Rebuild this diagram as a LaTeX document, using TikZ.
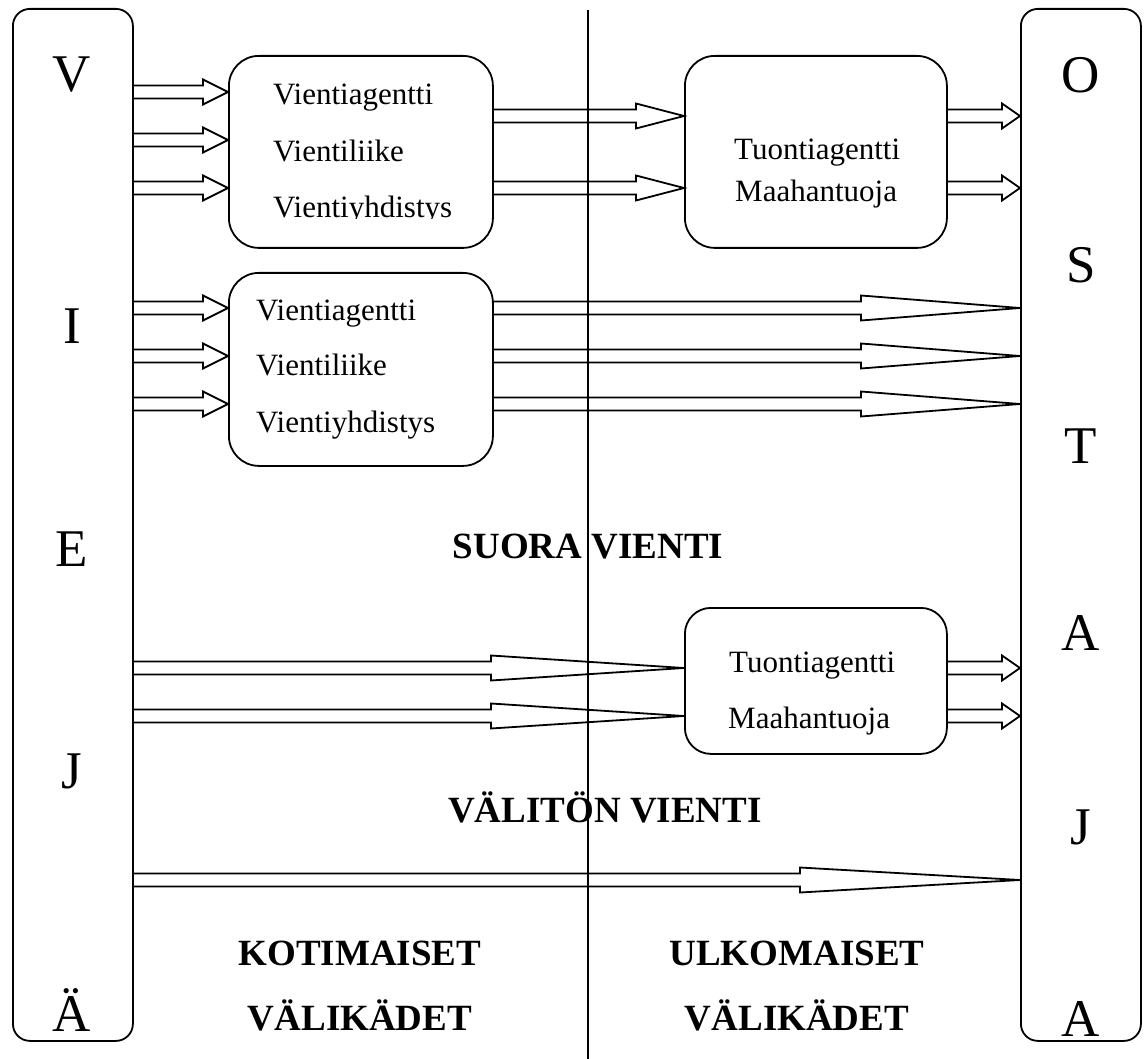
\documentclass[tikz,border=0pt]{standalone}
\usepackage{fontspec}
\setmainfont{Liberation Serif}
\usetikzlibrary{calc}
\newcommand{\blockarr}[3]{%
  \draw[arr] ($(#1)+(0,-6.5)$) -- ($(#2)+(-#3,-6.5)$) -- ($(#2)+(-#3,-12.5)$) -- (#2)
    -- ($(#2)+(-#3,12.5)$) -- ($(#2)+(-#3,6.5)$) -- ($(#1)+(0,6.5)$);}
\begin{document}
\begin{tikzpicture}[x=1pt,y=-1pt,
  side/.style={draw, line width=1.8pt, rounded corners=17pt, anchor=north west, inner sep=0pt, minimum width=120pt, minimum height=1032pt},
  inbox/.style={draw, line width=1.8pt, rounded corners=30pt, anchor=north west, inner sep=0pt},
  arr/.style={line width=1.8pt, line join=miter},
  big/.style={font=\fontsize{53}{60}\selectfont, anchor=base, inner sep=0pt},
  item/.style={font=\fontsize{31}{35}\selectfont, anchor=base west, inner sep=0pt},
  lab/.style={font=\fontsize{37}{42}\selectfont\bfseries, anchor=base, inner sep=0pt}]
\useasboundingbox (0,0) rectangle (1146,1059);
\fill[white] (0,0) rectangle (1146,1059);
% divider
\coordinate (vt) at (588,10);
\coordinate (vb) at (588,1059);
\draw[line width=1.8pt] (vt) -- (vb);
% side boxes
\node[side] (L) at (12,8) {};
\node[side] (R) at (1020,8) {};
% inner boxes
\node[inbox, minimum width=264pt, minimum height=192pt] (A) at (228,55) {};
\node[inbox, minimum width=262pt, minimum height=192pt] (B) at (684,55) {};
\node[inbox, minimum width=264pt, minimum height=193pt] (C) at (228,272) {};
\node[inbox, minimum width=262pt, minimum height=146pt, rounded corners=26pt] (D) at (684,607) {};
% letters
\node[big] (l1) at (72,92) {V};
\node[big] (l2) at (72,343) {I};
\node[big] (l3) at (72,566) {E};
\node[big] (l4) at (72,788) {J};
\node[big] (l5) at (72,1031) {Ä};
\node[big] (r1) at (1081,93) {O};
\node[big] (r2) at (1081,283) {S};
\node[big] (r3) at (1081,463) {T};
\node[big] (r4) at (1081,650) {A};
\node[big] (r5) at (1081,844) {J};
\node[big] (r6) at (1081,1036) {A};
% box texts
\node[item] (a1) at (273,105) {Vientiagentti};
\node[item] (a2) at (273,162) {Vientiliike};
\begin{scope}
  \clip (228,150) rectangle (492,219);
  \node[item] (a3) at (273,218) {Vientiyhdistys};
\end{scope}
\node[item] (b1) at (734,160) {Tuontiagentti};
\node[item] (b2) at (735,202) {Maahantuoja};
\node[item] (c1) at (256,320) {Vientiagentti};
\node[item] (c2) at (256,375) {Vientiliike};
\node[item] (c3) at (256,432) {Vientiyhdistys};
\node[item] (d1) at (729,672) {Tuontiagentti};
\node[item] (d2) at (728,728) {Maahantuoja};
% labels
\node[lab] (t1) at (588,558) {SUORA VIENTI};
\node[lab] (t2) at (605,822) {VÄLITÖN VIENTI};
\node[lab] (t3) at (360,965) {KOTIMAISET};
\node[lab] (t4) at (360,1030) {VÄLIKÄDET};
\node[lab] (t5) at (797,965) {ULKOMAISET};
\node[lab] (t6) at (797,1030) {VÄLIKÄDET};
% arrow end points
\coordinate (s1) at (132,92);  \coordinate (e1) at (228,92);
\coordinate (s2) at (132,140); \coordinate (e2) at (228,140);
\coordinate (s3) at (132,188); \coordinate (e3) at (228,188);
\coordinate (s4) at (492,116); \coordinate (e4) at (684,116);
\coordinate (s5) at (492,188); \coordinate (e5) at (684,188);
\coordinate (s6) at (946,116); \coordinate (e6) at (1020,116);
\coordinate (s7) at (946,188); \coordinate (e7) at (1020,188);
\coordinate (s8) at (132,308); \coordinate (e8) at (228,308);
\coordinate (s9) at (132,356); \coordinate (e9) at (228,356);
\coordinate (s10) at (132,404); \coordinate (e10) at (228,404);
\coordinate (s11) at (492,308); \coordinate (e11) at (1020,308);
\coordinate (s12) at (492,356); \coordinate (e12) at (1020,356);
\coordinate (s13) at (492,404); \coordinate (e13) at (1020,404);
\coordinate (s14) at (132,668); \coordinate (e14) at (684,668);
\coordinate (s15) at (132,716); \coordinate (e15) at (684,716);
\coordinate (s16) at (946,668); \coordinate (e16) at (1020,668);
\coordinate (s17) at (946,716); \coordinate (e17) at (1020,716);
\coordinate (s18) at (132,880); \coordinate (e18) at (1020,880);
% arrows
\blockarr{s1}{e1}{25}
\blockarr{s2}{e2}{25}
\blockarr{s3}{e3}{25}
\blockarr{s4}{e4}{48}
\blockarr{s5}{e5}{48}
\blockarr{s6}{e6}{18}
\blockarr{s7}{e7}{18}
\blockarr{s8}{e8}{25}
\blockarr{s9}{e9}{25}
\blockarr{s10}{e10}{25}
\blockarr{s11}{e11}{159}
\blockarr{s12}{e12}{159}
\blockarr{s13}{e13}{159}
\blockarr{s14}{e14}{193}
\blockarr{s15}{e15}{193}
\blockarr{s16}{e16}{18}
\blockarr{s17}{e17}{18}
\blockarr{s18}{e18}{220}
\end{tikzpicture}
\end{document}
